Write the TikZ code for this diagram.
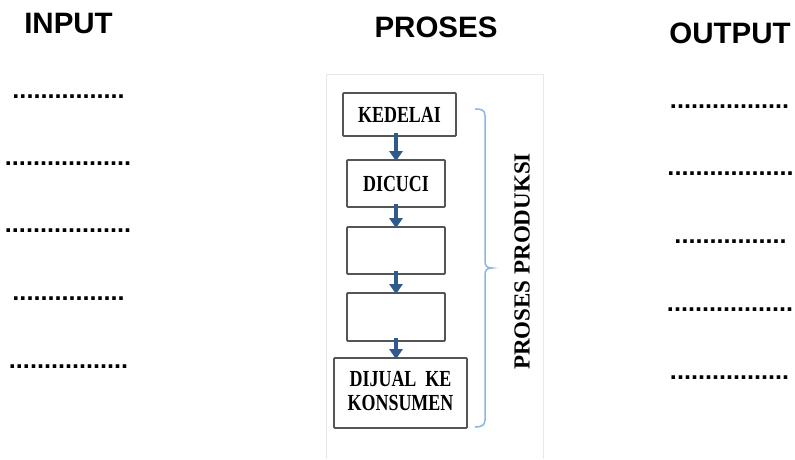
\documentclass[tikz,border=0pt]{standalone}
\usepackage{fontspec}
\usepackage{graphicx}
\setmainfont{Liberation Serif}
\setsansfont{Liberation Sans}
\usetikzlibrary{arrows.meta}

\definecolor{boxgray}{HTML}{555555}
\definecolor{arrowblue}{HTML}{2E5B8C}
\definecolor{bracketblue}{HTML}{8EB4E3}
\definecolor{panelgray}{HTML}{E8E8E8}

\begin{document}
\begin{tikzpicture}[x=1pt,y=-1pt,
  head/.style={font=\sffamily\bfseries\fontsize{29.5}{34}\selectfont, anchor=base, inner sep=0},
  blank/.style={font=\sffamily\bfseries\fontsize{25.2}{30}\selectfont, anchor=base, inner sep=0},
  stepbox/.style={draw=boxgray, line width=1.8pt, rounded corners=1pt, inner sep=0,
    font=\bfseries\fontsize{23}{25}\selectfont, align=center},
  flow/.style={draw=arrowblue, line width=4.5pt, -{Triangle[width=13pt,length=10pt]},
    shorten <=-4pt, shorten >=-2pt},
]
\useasboundingbox (0,0) rectangle (795,459);
\fill[white] (0,0) rectangle (795,459);

% column headings
\node[head] (hin)  at (68.5,33) {INPUT};
\node[head] (hpro) at (436,37)  {PROSES};
\node[head] (hout) at (730,43)  {OUTPUT};

% blanks to fill in, input side
\node[blank] (in1) at (68.5,98.5)  {................};
\node[blank] (in2) at (68,165.5)   {..................};
\node[blank] (in3) at (68,232.5)   {..................};
\node[blank] (in4) at (68.5,300.5) {................};
\node[blank] (in5) at (68.5,368.5) {.................};

% blanks to fill in, output side
\node[blank] (out1) at (729.5,108.5) {.................};
\node[blank] (out2) at (730.5,175.5) {..................};
\node[blank] (out3) at (730.5,243.5) {................};
\node[blank] (out4) at (730,311.5)   {..................};
\node[blank] (out5) at (729.5,379.5) {.................};

% frame of the process panel
\draw[panelgray, line width=0.8pt] (326,459) -- (326,74) -- (543,74) -- (543,459);

% process steps
\node[stepbox, minimum width=113pt, minimum height=43pt] (s1) at (399.5,114.5)
  {\scalebox{0.78}[1]{KEDELAI}};
\node[stepbox, minimum width=98pt, minimum height=47pt] (s2) at (396,183.5)
  {\scalebox{0.78}[1]{DICUCI}};
\node[stepbox, minimum width=98pt, minimum height=47pt] (s3) at (396,250.5) {};
\node[stepbox, minimum width=98pt, minimum height=48pt] (s4) at (396,317) {};
\node[stepbox, minimum width=133pt, minimum height=70pt] (s5) at (400.5,393)
  {\scalebox{0.78}[1]{\begin{tabular}{@{}c@{}}DIJUAL\ \ KE\\[-1pt] KONSUMEN\end{tabular}}};

% flow arrows
\draw[flow] (s2.north |- s1.south) -- (s2.north);
\draw[flow] (s2.south) -- (s3.north);
\draw[flow] (s3.south) -- (s4.north);
\draw[flow] (s4.south) -- (s4.south |- s5.north);

% brace grouping the steps
\draw[bracketblue, line width=1.5pt]
  (475,109) .. controls (482,109) and (485,110) .. (485,116)
  -- (485,261) .. controls (485,266) and (487,268) .. (492,268)
  .. controls (487,268) and (485,270) .. (485,275)
  -- (485,420) .. controls (485,425) and (482,427) .. (475,427);

\node[rotate=90, inner sep=0, font=\bfseries\fontsize{23}{25}\selectfont] (lbl) at (522,261.5)
  {PROSES PRODUKSI};
\end{tikzpicture}
\end{document}
